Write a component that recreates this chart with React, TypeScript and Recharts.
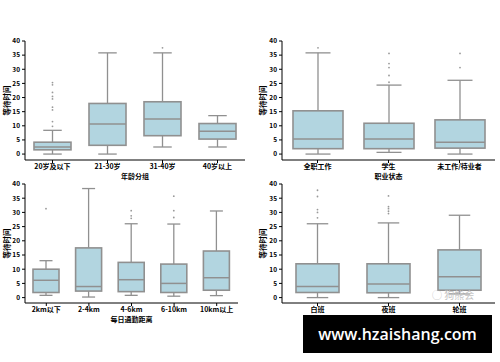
import React from 'react';
import { ComposedChart, Bar, XAxis, YAxis } from 'recharts';

// 年龄
const ageCats = ['20岁及以下', '21-30岁', '31-40岁', '40岁以上'];
const ageLow = [0, 0, 2.5, 2.5];
const ageQ1 = [1.5, 3.1, 6.5, 5.3];
const ageMed = [2.5, 10.6, 12.4, 8.1];
const ageQ3 = [4.2, 17.9, 18.5, 10.8];
const ageHigh = [8.4, 35.8, 35.8, 13.6];
const ageOut = [[9.8, 11.5, 15.6, 16.6, 19.5, 20.4, 21.8, 24.5, 25.3], [], [37.6], []];

// 职业
const jobCats = ['全职工作', '学生', '未工作/待业者'];
const jobLow = [0, 0.6, 0];
const jobQ1 = [1.9, 1.9, 2.1];
const jobMed = [5.3, 5.3, 4.2];
const jobQ3 = [15.3, 10.9, 12.1];
const jobHigh = [35.8, 24.4, 26.1];
const jobOut = [[37.6], [25.4, 27.8, 30.6, 32, 35.6], [30.6, 35.6]];

// 距离
const distCats = ['2km以下', '2-4km', '4-6km', '6-10km', '10km以上'];
const distLow = [0.8, 0.2, 0.8, 0.5, 0.7];
const distQ1 = [1.8, 2.3, 2.1, 1.8, 2.6];
const distMed = [6.1, 3.9, 6.3, 5.0, 7.0];
const distQ3 = [10.0, 17.5, 12.4, 11.8, 16.4];
const distHigh = [13.0, 38.4, 26.0, 25.9, 30.5];
const distOut = [[31.3], [], [27.9, 28.8, 30.6], [28.2, 30.6, 35.7], []];

// 班次
const shiftCats = ['白班', '夜班', '轮班'];
const shiftLow = [0, 0, 1.3];
const shiftQ1 = [1.8, 1.7, 2.6];
const shiftMed = [3.9, 4.8, 7.3];
const shiftQ3 = [11.9, 11.9, 16.8];
const shiftHigh = [26.0, 26.3, 29.0];
const shiftOut = [[28.1, 30.0, 31.0, 35.6, 37.8], [29.6, 30.4, 31.3, 32.0, 35.8], []];

const yTicks = [0, 5, 10, 15, 20, 25, 30, 35, 40];
const FONT = '"Noto Sans CJK SC", "Noto Sans", sans-serif';
const BOX_FILL = '#b2d5e0';
const BOX_LINE = '#909090';

const buildRows = (
  cats: string[], low: number[], q1: number[], med: number[],
  q3: number[], high: number[], out: number[][]
) => cats.map((cat, i) => ({
  cat, range: [low[i], high[i]], q1: q1[i], med: med[i], q3: q3[i], out: out[i]
}));

const BoxShape = (props: any) => {
  const { x, y, width, height, payload } = props;
  const [lo, hi] = payload.range;
  // map value -> pixel using the bar's own (scaled) extent
  const py = (v: number) => y + ((hi - v) / (hi - lo)) * height;
  const cx = x + width / 2;
  const cap = width / 4;
  return (
    <g>
      <line x1={cx} x2={cx} y1={py(hi)} y2={py(payload.q3)} stroke={BOX_LINE} strokeWidth={1.3} />
      <line x1={cx} x2={cx} y1={py(payload.q1)} y2={py(lo)} stroke={BOX_LINE} strokeWidth={1.3} />
      <line x1={cx - cap} x2={cx + cap} y1={py(hi)} y2={py(hi)} stroke={BOX_LINE} strokeWidth={1.3} />
      <line x1={cx - cap} x2={cx + cap} y1={py(lo)} y2={py(lo)} stroke={BOX_LINE} strokeWidth={1.3} />
      <rect x={x} y={py(payload.q3)} width={width} height={py(payload.q1) - py(payload.q3)}
        fill={BOX_FILL} stroke={BOX_LINE} strokeWidth={1.6} />
      <line x1={x} x2={x + width} y1={py(payload.med)} y2={py(payload.med)} stroke={BOX_LINE} strokeWidth={1.5} />
      {payload.out.map((v: number, k: number) => (
        <circle key={k} cx={cx} cy={py(v)} r={0.9} fill="#999" />
      ))}
    </g>
  );
};

interface PanelProps {
  rows: any[];
  left: number;
  top: number;
  yWidth: number;
  right: number;
  yMin: number;
  barSize: number;
  xLabel: string;
  yLabel: string;
  yLabelOffset: number;
}

const BoxPanel: React.FC<PanelProps> = ({ rows, left, top, yWidth, right, yMin, barSize, xLabel, yLabel, yLabelOffset }) => (
  <div style={{ position: 'absolute', left, top }}>
    <ComposedChart width={250} height={190} data={rows} margin={{ top: 41, right, bottom: 0, left: 0 }}>
      <XAxis
        dataKey="cat"
        height={30}
        tickSize={3}
        tickMargin={1}
        interval={0}
        axisLine={{ stroke: '#000' }}
        tickLine={{ stroke: '#000' }}
        tick={{ fontSize: 7, fontWeight: 700, fill: '#000', fontFamily: FONT }}
        label={{ value: xLabel, position: 'insideBottom', offset: 11, fontSize: 7, fontWeight: 700, fill: '#000', fontFamily: FONT }}
      />
      <YAxis
        type="number"
        domain={[yMin, 40]}
        ticks={yTicks}
        width={yWidth}
        tickSize={3}
        tickMargin={2}
        axisLine={{ stroke: '#000' }}
        tickLine={{ stroke: '#000' }}
        tick={{ fontSize: 6.5, fontWeight: 700, fill: '#000', fontFamily: FONT }}
        label={{
          value: yLabel, angle: -90, position: 'insideLeft', offset: yLabelOffset,
          fontSize: 7.5, fontWeight: 700, fill: '#000', fontFamily: FONT,
          style: { textAnchor: 'middle' }
        }}
      />
      <Bar dataKey="range" barSize={barSize} shape={<BoxShape />} isAnimationActive={false} />
    </ComposedChart>
  </div>
);

export default function App() {
  return (
    <div style={{ position: 'absolute', left: 0, top: 0, width: 500, height: 362, background: '#fff', overflow: 'hidden' }}>
      <BoxPanel rows={buildRows(ageCats, ageLow, ageQ1, ageMed, ageQ3, ageHigh, ageOut)}
        left={0} top={0} yWidth={25} right={5} yMin={-2.1} barSize={37}
        xLabel="年龄分组" yLabel="等待时间" yLabelOffset={7} />
      <BoxPanel rows={buildRows(jobCats, jobLow, jobQ1, jobMed, jobQ3, jobHigh, jobOut)}
        left={250} top={0} yWidth={32} right={5} yMin={-2.1} barSize={50}
        xLabel="职业状态" yLabel="等待时间" yLabelOffset={13} />
      <BoxPanel rows={buildRows(distCats, distLow, distQ1, distMed, distQ3, distHigh, distOut)}
        left={0} top={143} yWidth={25} right={12} yMin={-1.9} barSize={26}
        xLabel="每日通勤距离" yLabel="等待时间" yLabelOffset={7} />
      <BoxPanel rows={buildRows(shiftCats, shiftLow, shiftQ1, shiftMed, shiftQ3, shiftHigh, shiftOut)}
        left={250} top={143} yWidth={32} right={5} yMin={-1.9} barSize={43}
        xLabel="工作班次" yLabel="等待时间" yLabelOffset={13} />
      <div style={{ position: 'absolute', left: 432, top: 289, color: '#c4c4c4', fontFamily: FONT, fontSize: 10, lineHeight: '11px' }}>
        ◯ 狗熊会
      </div>
      <div style={{
        position: 'absolute', left: 303, top: 315, width: 189, height: 38, background: '#000',
        color: '#fff', fontFamily: '"Open Sans", sans-serif', fontWeight: 600, fontSize: 16,
        display: 'flex', alignItems: 'center', justifyContent: 'center'
      }}>
        www.hzaishang.com
      </div>
    </div>
  );
}
